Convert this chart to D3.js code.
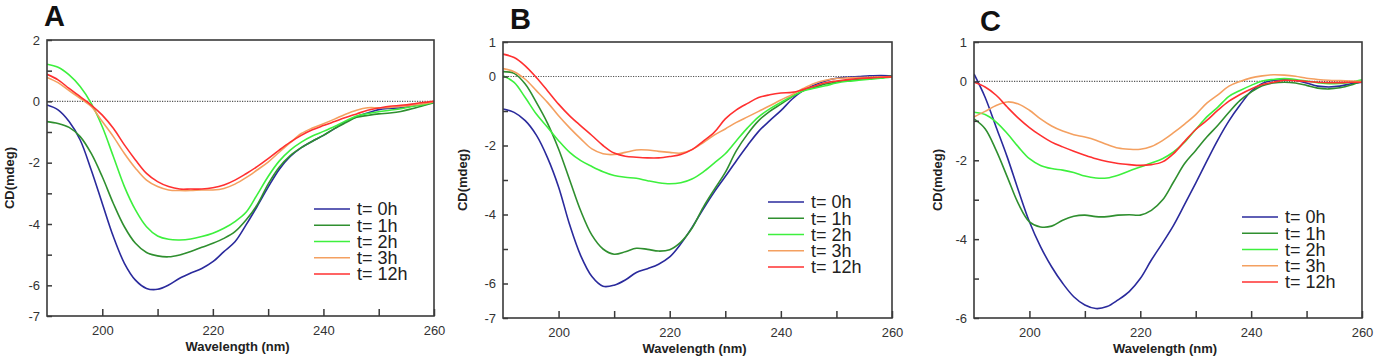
<!DOCTYPE html>
<html>
<head>
<meta charset="utf-8">
<script src="https://cdn.jsdelivr.net/npm/d3@7"></script>
<style>
  body { margin: 0; background: #fff; }
  svg { display: block; font-family: "Liberation Sans", Arial, sans-serif; }
</style>
</head>
<body>
<svg id="chart" width="1375" height="359"></svg>
<script>
// wavelength grid (nm)
var wavelengths = [190,192,194,196,198,200,202,204,206,208,210,212,214,216,218,220,222,224,226,228,
                   230,232,234,236,238,240,242,244,246,248,250,252,254,256,258,260];
var seriesLabels = ["t= 0h", "t= 1h", "t= 2h", "t= 3h", "t= 12h"];
var seriesColors = ["#2a2a9c", "#2f8f2f", "#3df03d", "#f4a060", "#ff3030"];

// panel A
var a0h  = [-0.12,-0.28,-0.66,-1.26,-2.24,-3.33,-4.41,-5.28,-5.83,-6.10,-6.13,-5.99,-5.77,-5.60,-5.45,-5.23,-4.90,-4.58,-4.03,-3.43,-2.80,-2.22,-1.80,-1.51,-1.30,-1.11,-0.89,-0.67,-0.50,-0.38,-0.27,-0.23,-0.21,-0.15,-0.09,-0.01];
var a1h  = [-0.66,-0.72,-0.85,-1.15,-1.70,-2.46,-3.33,-4.09,-4.63,-4.93,-5.04,-5.07,-5.01,-4.90,-4.76,-4.63,-4.47,-4.25,-3.87,-3.38,-2.70,-2.15,-1.77,-1.51,-1.30,-1.11,-0.89,-0.70,-0.52,-0.46,-0.41,-0.38,-0.33,-0.24,-0.14,-0.04];
var a2h  = [1.21,1.11,0.86,0.48,-0.07,-0.83,-1.80,-2.78,-3.54,-4.09,-4.39,-4.50,-4.52,-4.49,-4.41,-4.30,-4.14,-3.92,-3.62,-3.05,-2.45,-1.95,-1.59,-1.33,-1.13,-0.98,-0.82,-0.64,-0.48,-0.40,-0.34,-0.29,-0.24,-0.17,-0.11,-0.02];
var a3h  = [0.78,0.61,0.35,0.10,-0.17,-0.66,-1.15,-1.70,-2.18,-2.57,-2.78,-2.89,-2.91,-2.91,-2.89,-2.89,-2.84,-2.70,-2.49,-2.24,-1.98,-1.66,-1.35,-1.05,-0.87,-0.73,-0.58,-0.42,-0.29,-0.21,-0.21,-0.20,-0.17,-0.13,-0.08,-0.01];
var a12h = [0.88,0.70,0.42,0.15,-0.12,-0.45,-0.88,-1.42,-1.91,-2.35,-2.62,-2.78,-2.86,-2.86,-2.86,-2.82,-2.73,-2.57,-2.36,-2.13,-1.87,-1.59,-1.33,-1.11,-0.93,-0.79,-0.66,-0.53,-0.41,-0.29,-0.22,-0.16,-0.13,-0.09,-0.04,0];

// panel B
var b0h  = [-0.94,-1.04,-1.28,-1.70,-2.35,-3.20,-4.30,-5.20,-5.80,-6.08,-6.05,-5.90,-5.68,-5.57,-5.44,-5.23,-4.85,-4.38,-3.85,-3.35,-2.90,-2.44,-2.00,-1.59,-1.28,-0.99,-0.66,-0.41,-0.25,-0.13,-0.05,-0.02,0,0.02,0.03,0.02];
var b1h  = [0.14,0.09,-0.22,-0.75,-1.35,-2.10,-3.00,-3.90,-4.60,-5.00,-5.15,-5.08,-4.98,-5.01,-5.06,-5.02,-4.80,-4.40,-3.80,-3.28,-2.78,-2.15,-1.67,-1.28,-1.01,-0.80,-0.59,-0.41,-0.32,-0.22,-0.16,-0.11,-0.08,-0.05,-0.02,0.01];
var b2h  = [0.02,-0.17,-0.61,-1.09,-1.47,-1.86,-2.20,-2.44,-2.61,-2.76,-2.87,-2.92,-2.95,-3.02,-3.08,-3.11,-3.08,-2.97,-2.77,-2.51,-2.24,-1.86,-1.49,-1.17,-0.94,-0.75,-0.57,-0.42,-0.34,-0.27,-0.19,-0.14,-0.11,-0.08,-0.05,-0.01];
var b3h  = [0.23,0.14,-0.08,-0.41,-0.75,-1.14,-1.49,-1.81,-2.10,-2.24,-2.26,-2.20,-2.13,-2.13,-2.17,-2.20,-2.22,-2.12,-1.92,-1.70,-1.52,-1.33,-1.17,-1.01,-0.85,-0.68,-0.53,-0.35,-0.20,-0.11,-0.06,-0.04,-0.03,-0.02,-0.01,0];
var b12h = [0.65,0.55,0.31,-0.03,-0.41,-0.80,-1.14,-1.43,-1.71,-2.00,-2.22,-2.31,-2.34,-2.36,-2.36,-2.32,-2.26,-2.12,-1.88,-1.62,-1.23,-0.97,-0.78,-0.61,-0.53,-0.48,-0.46,-0.38,-0.28,-0.18,-0.13,-0.09,-0.06,-0.04,-0.02,-0.01];

// panel C
var c0h  = [0.19,-0.40,-1.16,-1.92,-2.76,-3.56,-4.19,-4.70,-5.12,-5.46,-5.67,-5.76,-5.71,-5.54,-5.33,-5.00,-4.53,-4.10,-3.65,-3.12,-2.58,-2.02,-1.48,-1.00,-0.60,-0.25,-0.05,0.03,0.04,0.03,-0.04,-0.12,-0.14,-0.12,-0.06,-0.02];
var c1h  = [-0.95,-1.20,-1.75,-2.42,-3.10,-3.56,-3.69,-3.67,-3.52,-3.42,-3.39,-3.43,-3.43,-3.39,-3.38,-3.39,-3.27,-3.01,-2.55,-2.08,-1.75,-1.41,-1.11,-0.78,-0.48,-0.27,-0.11,-0.04,-0.02,-0.04,-0.10,-0.17,-0.19,-0.16,-0.09,0.01];
var c2h  = [-0.78,-0.84,-1.03,-1.32,-1.66,-1.96,-2.13,-2.21,-2.25,-2.31,-2.40,-2.45,-2.45,-2.38,-2.27,-2.17,-2.07,-1.96,-1.79,-1.54,-1.22,-0.90,-0.65,-0.38,-0.23,-0.10,0.01,0.05,0.07,0.05,0.01,-0.03,-0.06,-0.05,-0.02,0.04];
var c3h  = [-0.90,-0.76,-0.61,-0.52,-0.57,-0.73,-0.95,-1.13,-1.26,-1.35,-1.41,-1.49,-1.60,-1.69,-1.72,-1.72,-1.65,-1.50,-1.30,-1.08,-0.84,-0.55,-0.34,-0.12,0,0.09,0.14,0.17,0.16,0.13,0.08,0.05,0.03,0.02,0.01,0];
var c12h = [-0.02,-0.14,-0.35,-0.65,-0.93,-1.17,-1.37,-1.54,-1.66,-1.77,-1.87,-1.96,-2.03,-2.08,-2.11,-2.13,-2.11,-2.04,-1.83,-1.52,-1.22,-0.99,-0.73,-0.50,-0.33,-0.19,-0.08,-0.02,0.03,0.02,0,-0.02,-0.03,-0.03,-0.02,-0.02];

// axes
var xTicks = [200, 210, 220, 230, 240, 250, 260];
var xTickLabels = [200, 220, 240, 260];
var yDomainA = [-7, 2], yLabelsA = [2, 0, -2, -4, -6, -7];
var yDomainB = [-7, 1], yLabelsB = [1, 0, -2, -4, -6, -7];
var yDomainC = [-6, 1], yLabelsC = [1, 0, -2, -4, -6];

var panels = [
  { letter: "A", series: [a0h, a1h, a2h, a3h, a12h], yDomain: yDomainA, yLabels: yLabelsA,
    l: 47, r: 434, t: 40, b: 316, letterX: 44, letterY: 26, yTitleX: 14, legX: 314, legY: 209 },
  { letter: "B", series: [b0h, b1h, b2h, b3h, b12h], yDomain: yDomainB, yLabels: yLabelsB,
    l: 503, r: 892, t: 42, b: 318, letterX: 510, letterY: 29, yTitleX: 467, legX: 768, legY: 202 },
  { letter: "C", series: [c0h, c1h, c2h, c3h, c12h], yDomain: yDomainC, yLabels: yLabelsC,
    l: 974, r: 1362, t: 42, b: 318, letterX: 980, letterY: 31, yTitleX: 942, legX: 1242, legY: 217 }
];

var svg = d3.select("#chart");
var ink = "#3a3a3a";

panels.forEach(function (p, pi) {
  var x = d3.scaleLinear().domain([190, 260]).range([p.l, p.r]);
  var y = d3.scaleLinear().domain(p.yDomain).range([p.b, p.t]);
  var g = svg.append("g");

  var clipId = "clip" + pi;
  g.append("clipPath").attr("id", clipId)
    .append("rect").attr("x", p.l).attr("y", p.t).attr("width", p.r - p.l).attr("height", p.b - p.t);

  // zero line
  g.append("line")
    .attr("x1", p.l).attr("x2", p.r).attr("y1", y(0)).attr("y2", y(0))
    .attr("stroke", "#555").attr("stroke-width", 1.2).attr("stroke-dasharray", "1.2,1.3");

  // curves
  var line = d3.line()
    .x(function (d, i) { return x(wavelengths[i]); })
    .y(function (d) { return y(d); })
    .curve(d3.curveCatmullRom.alpha(0.5));

  g.append("g").attr("clip-path", "url(#" + clipId + ")")
    .selectAll("path").data(p.series).enter().append("path")
      .attr("d", line)
      .attr("fill", "none")
      .attr("stroke", function (d, i) { return seriesColors[i]; })
      .attr("stroke-width", 1.6);

  // y axis (ticks inward)
  var yTickVals = d3.range(p.yDomain[0], p.yDomain[1] + 1);
  var yAxis = d3.axisLeft(y).tickValues(yTickVals)
    .tickSizeInner(-5).tickSizeOuter(0).tickPadding(7)
    .tickFormat(function (d) { return p.yLabels.indexOf(d) >= 0 ? String(d) : ""; });
  var ya = g.append("g").attr("transform", "translate(" + p.l + ",0)").call(yAxis);

  // x axis (ticks inward)
  var xAxis = d3.axisBottom(x).tickValues(xTicks)
    .tickSizeInner(-7).tickSizeOuter(0).tickPadding(10)
    .tickFormat(function (d) { return xTickLabels.indexOf(d) >= 0 ? String(d) : ""; });
  var xa = g.append("g").attr("transform", "translate(0," + p.b + ")").call(xAxis);

  [ya, xa].forEach(function (a) {
    a.select(".domain").remove();
    a.selectAll(".tick line").attr("stroke", ink).attr("stroke-width", 1.5);
    a.selectAll(".tick text").attr("fill", "#333").style("font-size", "13px")
      .style("font-family", "'Liberation Sans', Arial, sans-serif");
  });

  // frame
  g.append("rect")
    .attr("x", p.l).attr("y", p.t).attr("width", p.r - p.l).attr("height", p.b - p.t)
    .attr("fill", "none").attr("stroke", ink).attr("stroke-width", 1.6);

  // titles
  g.append("text")
    .attr("x", (p.l + p.r) / 2 - 3).attr("y", p.b + 35)
    .attr("text-anchor", "middle")
    .style("font-size", "13px").style("font-weight", "bold").attr("fill", "#222")
    .text("Wavelength (nm)");

  g.append("text")
    .attr("transform", "translate(" + p.yTitleX + "," + ((p.t + p.b) / 2) + ") rotate(-90)")
    .attr("text-anchor", "middle")
    .style("font-size", "13px").style("font-weight", "bold").attr("fill", "#222")
    .text("CD(mdeg)");

  g.append("text")
    .attr("x", p.letterX).attr("y", p.letterY)
    .style("font-size", "29px").style("font-weight", "bold").attr("fill", "#111")
    .text(p.letter);

  // legend
  var leg = g.append("g").attr("transform", "translate(" + p.legX + "," + p.legY + ")");
  var rows = leg.selectAll("g").data(seriesLabels).enter().append("g")
    .attr("transform", function (d, i) { return "translate(0," + (i * 16.25) + ")"; });
  rows.append("line")
    .attr("x1", 0).attr("x2", 36).attr("y1", 0).attr("y2", 0)
    .attr("stroke", function (d, i) { return seriesColors[i]; })
    .attr("stroke-width", 1.6);
  rows.append("text")
    .attr("x", 43).attr("y", 0).attr("dy", "0.36em")
    .style("font-size", "18px").attr("fill", "#222")
    .text(function (d) { return d; });
});
</script>
</body>
</html>
